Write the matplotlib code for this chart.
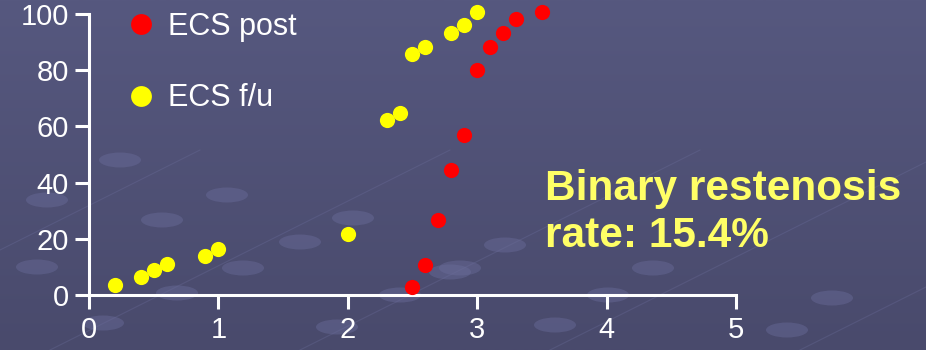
import matplotlib.pyplot as plt
from matplotlib.lines import Line2D
from matplotlib.patches import Ellipse
from matplotlib.colors import LinearSegmentedColormap
import numpy as np

plt.rcParams['font.family'] = ['Liberation Sans', 'DejaVu Sans']

# cumulative distribution, ECS immediately after procedure
post_x = [2.5, 2.6, 2.7, 2.8, 2.9, 3.0, 3.1, 3.2, 3.3, 3.5]
post_y = [3, 10.8, 26.7, 44.5, 56.8, 80.2, 88.1, 93.2, 98.3, 100.8]

# cumulative distribution, ECS at follow-up
fu_x = [0.2, 0.4, 0.5, 0.6, 0.9, 1.0, 2.0, 2.3, 2.4, 2.5, 2.6, 2.8, 2.9, 3.0]
fu_y = [3.4, 6.3, 8.8, 11.0, 13.8, 16.3, 21.6, 62.3, 64.8, 85.8, 88.3, 93.4, 96.2, 100.8]

xticks = [0, 1, 2, 3, 4, 5]
yticks = [0, 20, 40, 60, 80, 100]

fig = plt.figure(figsize=(9.26, 3.5), dpi=100)

# slide background: vertical gradient plus faint decorative ovals
bgax = fig.add_axes([0, 0, 1, 1], zorder=-10)
grad = np.linspace(0, 1, 256).reshape(-1, 1)
cmap = LinearSegmentedColormap.from_list('slide', ['#494a6c', '#56587f'])
bgax.imshow(grad, aspect='auto', cmap=cmap, extent=[0, 926, 0, 350], origin='lower')
ovals = [(47, 200), (227, 195), (162, 220), (353, 218), (300, 242), (37, 267),
         (243, 268), (177, 293), (400, 295), (103, 323), (337, 327), (450, 272),
         (505, 245), (653, 268), (608, 295), (555, 325), (832, 298), (787, 330),
         (460, 268), (120, 160)]
for ox, oy in ovals:
    bgax.add_patch(Ellipse((ox, 350 - oy), 42, 15, color='#6a6c9a', alpha=0.45, lw=0))
for x0 in [-200, 50, 300, 550, 800]:
    bgax.plot([x0, x0 + 400], [0, 200], color='#6a6c9a', lw=0.8, alpha=0.35)
bgax.set_xlim(0, 926)
bgax.set_ylim(0, 350)
bgax.axis('off')

ax = fig.add_axes([89 / 926, 1 - 295 / 350, (736 - 89) / 926, (295 - 14) / 350])
ax.patch.set_alpha(0)

ax.scatter(post_x, post_y, s=120, color='#ff0000', clip_on=False, zorder=3, lw=0)
ax.scatter(fu_x, fu_y, s=120, color='#ffff00', clip_on=False, zorder=3, lw=0)

ax.set_xlim(0, 5)
ax.set_ylim(0, 100)
ax.set_xticks(xticks)
ax.set_yticks(yticks)
for side in ['top', 'right']:
    ax.spines[side].set_visible(False)
for side in ['left', 'bottom']:
    ax.spines[side].set_color('white')
    ax.spines[side].set_linewidth(2.2)
ax.tick_params(colors='white', width=2.2, length=10, labelsize=21)
ax.tick_params(axis='x', pad=5)
ax.tick_params(axis='y', pad=4.5)

handles = [Line2D([], [], ls='', marker='o', ms=15, color='#ff0000', mec='none'),
           Line2D([], [], ls='', marker='o', ms=15, color='#ffff00', mec='none')]
fig.legend(handles, ['ECS post', 'ECS f/u'], loc='upper left',
           bbox_to_anchor=(126 / 926, 1 - 12 / 350), frameon=False,
           labelcolor='white', fontsize=22, labelspacing=1.35, borderpad=0,
           borderaxespad=0, handletextpad=0.36, handlelength=1.0)

fig.text(545 / 926, 1 - 247 / 350, 'Binary restenosis\nrate: 15.4%',
         color='#ffff66', fontsize=30.5, fontweight='bold', va='baseline',
         linespacing=1.23)

fig.savefig('out.png', dpi=100)
